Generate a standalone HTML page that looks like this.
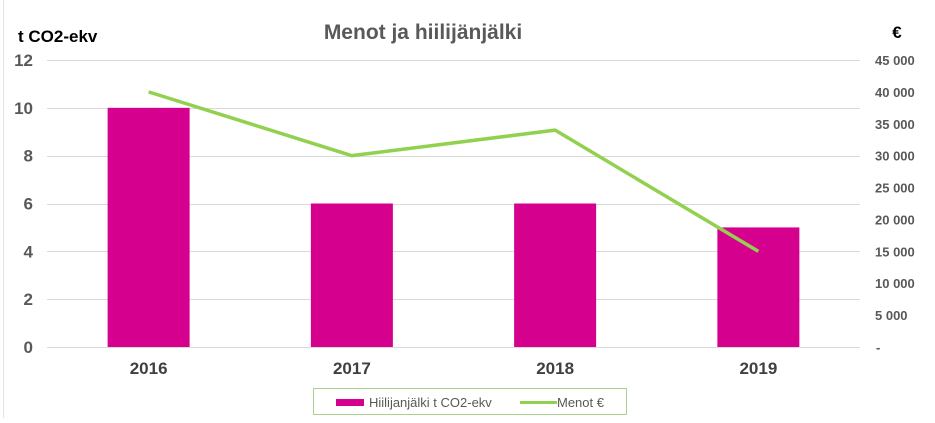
<!DOCTYPE html>
<html><head><meta charset="utf-8"><style>
body{margin:0;background:#fff;}
svg text{font-family:"Liberation Sans",sans-serif;}
</style></head><body>
<svg width="935" height="418" viewBox="0 0 935 418">
<line x1="3.5" y1="0" x2="3.5" y2="418" stroke="#e3e3e3"/>
<text x="423" y="39" font-size="21" font-weight="bold" fill="#595959" text-anchor="middle">Menot ja hiilijänjälki</text>
<text x="18" y="42" font-size="17" font-weight="bold" fill="#000">t CO2-ekv</text>
<text x="897" y="38" font-size="17" font-weight="bold" fill="#000" text-anchor="middle">€</text>
<g id="grid"></g><g id="bars"></g><g id="line"></g><g id="labels"></g>
<g>
<rect x="313.5" y="388.5" width="313" height="26" fill="none" stroke="#a9d18e"/>
<rect x="336" y="399" width="28" height="7" fill="#d6008f"/>
<text x="369" y="407" font-size="13" fill="#595959">Hiilijanjälki t CO2-ekv</text>
<line x1="520" y1="402.5" x2="557" y2="402.5" stroke="#92d050" stroke-width="3"/>
<text x="557" y="407" font-size="13" fill="#595959">Menot €</text>
</g>
</svg>
<script>
const categories=["2016","2017","2018","2019"];
const emissions=[10,6,6,5];
const costs=[40000,30000,34000,15000];
const leftTicks=[0,2,4,6,8,10,12];
const rightTicks=[0,5000,10000,15000,20000,25000,30000,35000,40000,45000];
const rightTickLabels=["-","5 000","10 000","15 000","20 000","25 000","30 000","35 000","40 000","45 000"];
const NS="http://www.w3.org/2000/svg";
const x0=47,x1=860,y0=347,yTop=60;
const yL=v=>y0-(v/12)*(y0-yTop);
const yR=v=>y0-(v/45000)*(y0-yTop);
const band=(x1-x0)/categories.length;
const xC=i=>x0+band*(i+0.5);
function mk(t,a,p){const e=document.createElementNS(NS,t);for(const k in a)e.setAttribute(k,a[k]);document.getElementById(p).appendChild(e);return e;}
leftTicks.forEach((v,i)=>{
 const g=mk("line",{x1:x0,x2:x1,y1:Math.round(yL(v))+0.5,y2:Math.round(yL(v))+0.5,stroke:"#d9d9d9"},"grid");
 
 
 const t=mk("text",{x:33,y:yL(v)+6,"font-size":17,"font-weight":"bold",fill:"#595959","text-anchor":"end"},"labels");
 t.textContent=v;
 
 
});
rightTicks.forEach((v,i)=>{
 const t=mk("text",{x:i===0?876:875,y:yR(v)+5,"font-size":13,"font-weight":"bold",fill:"#595959"},"labels");
 t.textContent=rightTickLabels[i];
 
 
});
const bw=82;
categories.forEach((c,i)=>{
 const r=mk("rect",{x:xC(i)-bw/2,y:yL(emissions[i]),width:bw,height:y0-yL(emissions[i]),fill:"#d6008f"},"bars");
 
 
 const t=mk("text",{x:xC(i),y:374,"font-size":17,"font-weight":"bold",fill:"#404040","text-anchor":"middle"},"labels");
 t.textContent=c;
 
 
});
const pl=mk("polyline",{points:costs.map((v,i)=>xC(i)+","+yR(v)).join(" "),fill:"none",stroke:"#92d050","stroke-width":3.5,"stroke-linejoin":"round"},"line");


</script>
</body></html>
